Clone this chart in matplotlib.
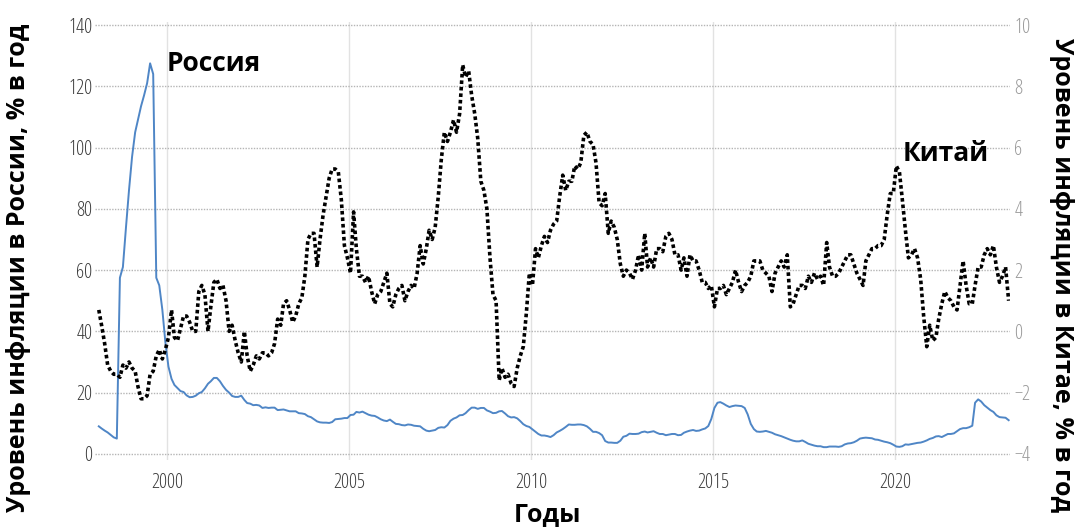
import matplotlib
matplotlib.use("Agg")
import matplotlib.pyplot as plt
import matplotlib.dates as mdates
import numpy as np
import pandas as pd

plt.rcParams['font.family'] = ['Open Sans', 'DejaVu Sans']

# monthly CPI, % y/y, Feb 1998 - Feb 2023
russia = [
    9.0, 8.3, 7.6, 7.0, 6.2, 5.4, 5.0, 57.5, 61.0, 74.0, 86.0,            # 1998
    97.0, 105.0, 109.0, 113.5, 117.0, 121.0, 127.5, 124.0, 57.5, 55.0, 47.0, 36.5,  # 1999
    28.5, 24.5, 22.5, 21.5, 20.5, 20.2, 19.1, 18.5, 18.6, 19.0, 19.8, 20.2,  # 2000
    21.4, 22.9, 23.7, 24.8, 24.8, 23.7, 22.2, 20.9, 20.0, 18.9, 18.6, 18.6,  # 2001
    19.0, 17.6, 16.6, 16.4, 15.9, 16.0, 15.8, 15.0, 15.2, 15.0, 15.1, 15.1,  # 2002
    14.3, 14.4, 14.5, 14.2, 13.9, 13.9, 13.9, 13.3, 13.2, 13.0, 12.3, 12.0,  # 2003
    11.3, 10.6, 10.3, 10.2, 10.2, 10.1, 10.4, 11.3, 11.4, 11.5, 11.7, 11.7,  # 2004
    12.7, 12.8, 13.7, 13.5, 13.8, 13.3, 12.8, 12.5, 12.4, 11.9, 11.3, 10.9,  # 2005
    10.7, 11.2, 10.5, 9.8, 9.7, 9.4, 9.3, 9.6, 9.5, 9.2, 9.1, 9.0,           # 2006
    8.2, 7.6, 7.4, 7.6, 7.8, 8.5, 8.7, 8.6, 9.4, 10.8, 11.5, 11.9,           # 2007
    12.6, 12.7, 13.3, 14.3, 15.1, 15.1, 14.7, 15.0, 15.0, 14.2, 13.8, 13.3,  # 2008
    13.4, 13.9, 14.0, 13.2, 12.3, 11.9, 12.0, 11.6, 10.7, 9.7, 9.1, 8.8,     # 2009
    8.0, 7.2, 6.5, 6.0, 6.0, 5.8, 5.5, 6.1, 7.0, 7.5, 8.1, 8.8,              # 2010
    9.6, 9.5, 9.5, 9.6, 9.6, 9.4, 9.0, 8.2, 7.2, 7.2, 6.8, 6.1,              # 2011
    4.2, 3.7, 3.7, 3.6, 3.6, 4.3, 5.6, 5.9, 6.6, 6.5, 6.5, 6.6,              # 2012
    7.1, 7.3, 7.0, 7.2, 7.4, 6.9, 6.5, 6.5, 6.1, 6.3, 6.5, 6.5,              # 2013
    6.1, 6.2, 6.9, 7.3, 7.6, 7.8, 7.5, 7.6, 8.0, 8.3, 9.1, 11.4,             # 2014
    15.0, 16.7, 16.9, 16.4, 15.8, 15.3, 15.6, 15.8, 15.7, 15.6, 15.0, 12.9,  # 2015
    9.8, 8.1, 7.3, 7.2, 7.3, 7.5, 7.2, 6.9, 6.4, 6.1, 5.8, 5.4,              # 2016
    5.0, 4.6, 4.3, 4.1, 4.1, 4.4, 3.9, 3.3, 3.0, 2.7, 2.5, 2.5,              # 2017
    2.2, 2.2, 2.4, 2.4, 2.4, 2.3, 2.5, 3.1, 3.4, 3.5, 3.8, 4.3,              # 2018
    5.0, 5.2, 5.3, 5.2, 5.1, 4.7, 4.6, 4.3, 4.0, 3.8, 3.5, 3.0,              # 2019
    2.4, 2.3, 2.5, 3.1, 3.0, 3.2, 3.4, 3.6, 3.7, 4.0, 4.4, 4.9,              # 2020
    5.2, 5.7, 5.8, 5.5, 6.0, 6.5, 6.5, 6.7, 7.4, 8.1, 8.4, 8.4,              # 2021
    8.7, 9.2, 16.7, 17.8, 17.1, 15.9, 15.1, 14.3, 13.7, 12.6, 12.0, 11.9,    # 2022
    11.8, 11.0,                                                              # 2023
]

china = [
    0.7, 0.2, -0.4, -1.1, -1.3, -1.4, -1.4, -1.5, -1.1, -1.2, -1.0,          # 1998
    -1.2, -1.3, -1.8, -2.2, -2.2, -2.1, -1.4, -1.3, -0.8, -0.6, -0.9, -0.6,  # 1999
    -0.2, 0.7, -0.2, -0.3, 0.1, 0.5, 0.5, 0.3, 0.0, 0.0, 1.3, 1.5,           # 2000
    1.2, 0.0, 0.8, 1.6, 1.7, 1.4, 1.5, 1.0, 0.0, 0.2, -0.3, -0.7,            # 2001
    -1.0, 0.0, -0.8, -1.3, -1.1, -0.8, -0.9, -0.7, -0.7, -0.8, -0.7, -0.4,   # 2002
    0.4, 0.2, 0.9, 1.0, 0.7, 0.3, 0.5, 0.9, 1.1, 1.8, 3.0, 3.2,              # 2003
    3.2, 2.1, 3.0, 3.8, 4.4, 5.0, 5.3, 5.3, 5.2, 4.3, 2.8, 2.4,              # 2004
    1.9, 3.9, 2.7, 1.8, 1.8, 1.6, 1.8, 1.3, 0.9, 1.2, 1.3, 1.6,              # 2005
    1.9, 0.9, 0.8, 1.2, 1.4, 1.5, 1.0, 1.3, 1.5, 1.4, 1.9, 2.8,              # 2006
    2.2, 2.7, 3.3, 3.0, 3.4, 4.4, 5.6, 6.5, 6.2, 6.5, 6.9, 6.5,              # 2007
    7.1, 8.7, 8.3, 8.5, 7.7, 7.1, 6.3, 4.9, 4.6, 4.0, 2.4, 1.2,              # 2008
    1.0, -1.6, -1.2, -1.5, -1.4, -1.7, -1.8, -1.2, -0.8, -0.5, 0.6, 1.9,     # 2009
    1.5, 2.7, 2.4, 2.8, 3.1, 2.9, 3.3, 3.5, 3.6, 4.4, 5.1, 4.6,              # 2010
    4.9, 4.9, 5.4, 5.3, 5.5, 6.4, 6.5, 6.2, 6.1, 5.5, 4.2, 4.1,              # 2011
    4.5, 3.2, 3.6, 3.4, 3.0, 2.2, 1.8, 2.0, 1.9, 1.7, 2.0, 2.5,              # 2012
    2.0, 3.2, 2.1, 2.4, 2.1, 2.7, 2.7, 2.6, 3.1, 3.2, 3.0, 2.5,              # 2013
    2.5, 2.0, 2.4, 1.8, 2.5, 2.3, 2.3, 2.0, 1.6, 1.6, 1.4, 1.5,              # 2014
    0.8, 1.4, 1.4, 1.5, 1.2, 1.4, 1.6, 2.0, 1.6, 1.3, 1.5, 1.6,              # 2015
    1.8, 2.3, 2.3, 2.3, 2.0, 1.9, 1.8, 1.3, 1.9, 2.1, 2.3, 2.1,              # 2016
    2.5, 0.8, 0.9, 1.2, 1.5, 1.5, 1.4, 1.8, 1.6, 1.9, 1.7, 1.8,              # 2017
    1.5, 2.9, 2.1, 1.8, 1.8, 1.9, 2.1, 2.3, 2.5, 2.5, 2.2, 1.9,              # 2018
    1.7, 1.5, 2.3, 2.5, 2.7, 2.7, 2.8, 2.8, 3.0, 3.8, 4.5, 4.5,              # 2019
    5.4, 5.2, 4.3, 3.3, 2.4, 2.5, 2.7, 2.4, 1.7, 0.5, -0.5, 0.2,             # 2020
    -0.3, -0.2, 0.4, 0.9, 1.3, 1.1, 1.0, 0.8, 0.7, 1.5, 2.3, 1.5,            # 2021
    0.9, 0.9, 1.5, 2.1, 2.1, 2.5, 2.7, 2.5, 2.8, 2.1, 1.6, 1.8,              # 2022
    2.1, 1.0,                                                                # 2023
]

months = pd.date_range('1998-02-01', periods=len(russia), freq='MS') + pd.Timedelta(days=14)

fig = plt.figure(figsize=(10.82, 5.27), dpi=100)
ax = fig.add_axes([0.0878, 0.1271, 0.8457, 0.8312])
ax2 = ax.twinx()

ax.plot(months, russia, color='#4f86c6', lw=1.4, zorder=3)
ax2.plot(months, china, color='black', lw=2.6, linestyle=(0, (1.0, 0.8)), zorder=3)

ax.set_ylim(-2, 141)
ax2.set_ylim(-4.2, 10.1)
ax.set_xlim(pd.Timestamp('1998-01-08'), pd.Timestamp('2023-03-01'))
ax.set_yticks(np.arange(0, 141, 20))
ax2.set_yticks(np.arange(-4, 11, 2))
ax.xaxis.set_major_locator(mdates.YearLocator(5))
ax.xaxis.set_major_formatter(mdates.DateFormatter('%Y'))

ax.grid(axis='y', color='#b5b5b5', linestyle=(0, (1, 1)), lw=1.0)
ax.grid(axis='x', color='#e2e2e2', linestyle='-', lw=1.0)
ax.set_axisbelow(True)

for a in (ax, ax2):
    for s in a.spines.values():
        s.set_visible(False)
    a.tick_params(length=0)

for lbl in ax.get_yticklabels() + ax.get_xticklabels():
    lbl.set_family('Open Sans')
    lbl.set_fontstretch('condensed')
    lbl.set_fontsize(14.5)
    lbl.set_color('#3c3c3c')
for lbl in ax2.get_yticklabels():
    lbl.set_family('Open Sans')
    lbl.set_fontstretch('condensed')
    lbl.set_fontsize(14.5)
    lbl.set_color('#9a9a9a')
ax.tick_params(axis='y', pad=2)
ax.tick_params(axis='x', pad=9)
ax2.tick_params(axis='y', pad=3)

ax.text(pd.Timestamp('2000-01-01'), 127.3, 'Россия', fontsize=19, fontweight='bold',
        va='center', ha='left')
ax2.text(pd.Timestamp('2020-03-22'), 5.82, 'Китай', fontsize=19, fontweight='bold',
         va='center', ha='left')

fig.text(0.017, 0.491, 'Уровень инфляции в России, % в год', rotation=90,
         fontsize=18, fontweight='bold', ha='center', va='center')
fig.text(0.981, 0.478, 'Уровень инфляции в Китае, % в год', rotation=270,
         fontsize=18, fontweight='bold', ha='center', va='center')
fig.text(0.506, 0.023, 'Годы', fontsize=18, fontweight='bold', ha='center', va='center')

fig.savefig('out.png', dpi=100)
